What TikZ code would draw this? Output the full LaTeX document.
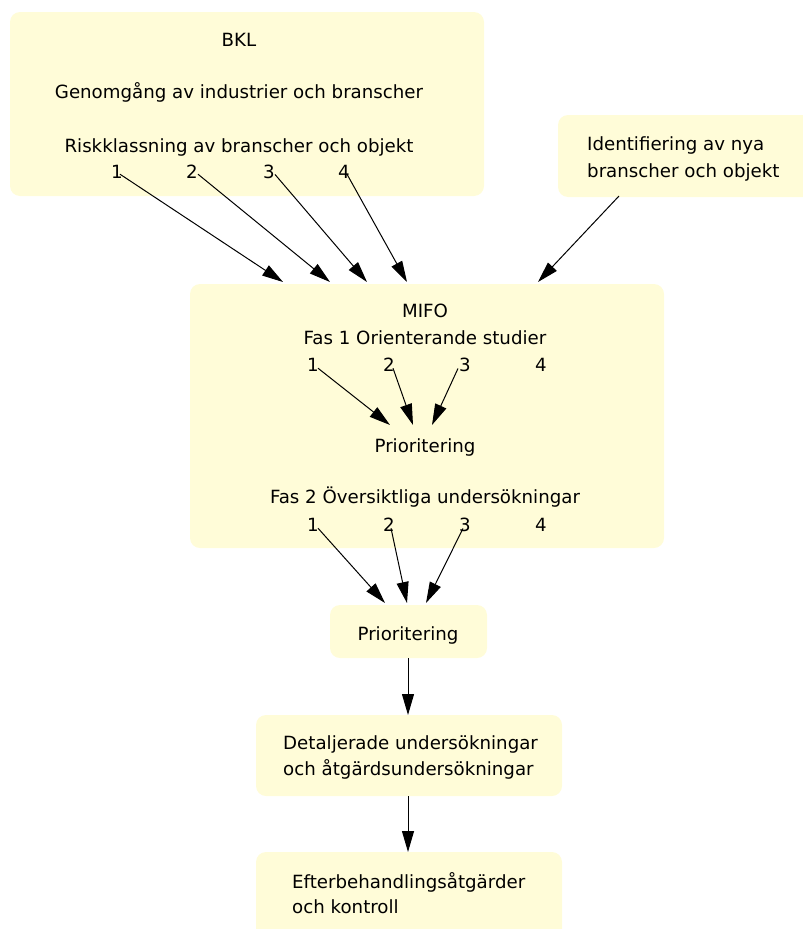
\documentclass[tikz,border=0pt]{standalone}
\usepackage{fontspec}
\setmainfont{DejaVu Sans}
\usetikzlibrary{arrows.meta}

\definecolor{boxfill}{HTML}{FFFCD8}

\begin{document}
\begin{tikzpicture}[x=1pt,y=-1pt,
  box/.style={fill=boxfill, rounded corners=10},
  txt/.style={anchor=base, inner sep=0pt, font=\fontsize{18.2}{21}\selectfont},
  arr/.style={-{Triangle[length=21pt,width=12pt]}, line width=1pt}]

\useasboundingbox (0,0) rectangle (803,929);
\clip (0,0) rectangle (803,929);

% boxes
\fill[box] (10,12) rectangle (484,196);
\fill[box] (558,115) rectangle (815,197);
\fill[box] (190,284) rectangle (664,548);
\fill[box] (330,605) rectangle (487,658);
\fill[box] (256,715) rectangle (562,796);
\fill[box] (256,852) rectangle (562,945);

% BKL
\node[txt] (bkl) at (239,46) {BKL};
\node[txt] (genom) at (239,98) {Genomgång av industrier och branscher};
\node[txt] (risk) at (239,152) {Riskklassning av branscher och objekt};
\node[txt] (b1) at (117,178) {1};
\node[txt] (b2) at (192,178) {2};
\node[txt] (b3) at (269,178) {3};
\node[txt] (b4) at (344,178) {4};

% nya
\node[txt, anchor=base west] (ident) at (587,150) {Identifiering av nya};
\node[txt, anchor=base west] (nya) at (587,177) {branscher och objekt};

% MIFO
\node[txt] (mifo) at (425,317) {MIFO};
\node[txt] (fas1) at (425,344) {Fas 1 Orienterande studier};
\node[txt] (f1) at (313,371) {1};
\node[txt] (f2) at (389,371) {2};
\node[txt] (f3) at (465,371) {3};
\node[txt] (f4) at (541,371) {4};
\node[txt] (prio1) at (425,452) {Prioritering};
\node[txt] (fas2) at (425,503) {Fas 2 Översiktliga undersökningar};
\node[txt] (g1) at (313,531) {1};
\node[txt] (g2) at (389,531) {2};
\node[txt] (g3) at (465,531) {3};
\node[txt] (g4) at (541,531) {4};

% lower chain
\node[txt] (prio2) at (408,640) {Prioritering};
\node[txt, anchor=base west] (det1) at (283,749) {Detaljerade undersökningar};
\node[txt, anchor=base west] (det2) at (283,775) {och åtgärdsundersökningar};
\node[txt, anchor=base west] (eft1) at (292,888) {Efterbehandlingsåtgärder};
\node[txt, anchor=base west] (eft2) at (292,913) {och kontroll};

% arrow ends
\coordinate (m1) at (283,282);
\coordinate (m2) at (330,282);
\coordinate (m3) at (367,282);
\coordinate (m4) at (407,282);
\coordinate (m5) at (538,282);
\coordinate (p1) at (390,425);
\coordinate (p2) at (413,425);
\coordinate (p3) at (432,425);
\coordinate (q1) at (385,603);
\coordinate (q2) at (407,603);
\coordinate (q3) at (426,603);
\coordinate (ptop) at (408,658);
\coordinate (dtop) at (408,715);
\coordinate (dbot) at (408,796);
\coordinate (etop) at (408,852);

\draw[arr] ([xshift=3,yshift=4]b1.south) -- (m1);
\draw[arr] ([xshift=6,yshift=4]b2.south) -- (m2);
\draw[arr] ([xshift=6,yshift=4]b3.south) -- (m3);
\draw[arr] ([xshift=3,yshift=4]b4.south) -- (m4);
\draw[arr] (619,196) -- (m5);

\draw[arr] ([xshift=5,yshift=3]f1.south) -- (p1);
\draw[arr] ([xshift=4,yshift=3]f2.south) -- (p2);
\draw[arr] ([xshift=-7,yshift=3]f3.south) -- (p3);

\draw[arr] ([xshift=5,yshift=3]g1.south) -- (q1);
\draw[arr] ([xshift=2,yshift=3]g2.south) -- (q2);
\draw[arr] ([xshift=-2,yshift=3]g3.south) -- (q3);

\draw[arr] (ptop) -- (dtop);
\draw[arr] (dbot) -- (etop);

\end{tikzpicture}
\end{document}
